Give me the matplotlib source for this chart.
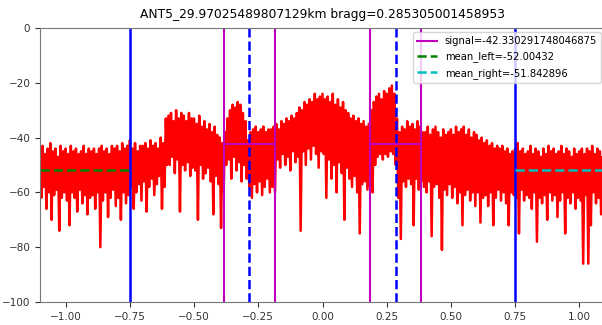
import matplotlib
matplotlib.use('Agg')
import matplotlib.pyplot as plt
import numpy as np

title = "ANT5_29.97025489807129km bragg=0.285305001458953"
bragg = 0.285305001458953
signal = -42.330291748046875
mean_left = -52.00432
mean_right = -51.842896

# spectrum: top and bottom of the noisy band, step 0.01 from -1.10
x_start = -1.10
x_step = 0.01
upper = [
    -45, -43, -46, -44, -42, -45, -44, -47, -43, -45,
    -44, -46, -43, -45, -44, -46, -45, -43, -46, -44,
    -45, -44, -46, -44, -43, -45, -44, -46, -43, -44,
    -43, -45, -42, -44, -43, -41, -44, -42, -45, -43,
    -43, -42, -44, -41, -43, -42, -44, -40, -42, -33,
    -32, -31, -34, -30, -33, -31, -32, -34, -31, -33,
    -33, -35, -32, -36, -34, -37, -35, -38, -36, -39,
    -40, -42, -38, -33, -30, -28, -29, -27, -28, -31,
    -34, -41, -38, -37, -36, -38, -37, -36, -38, -37,
    -37, -36, -35, -37, -34, -35, -33, -34, -32, -33,
    -31, -29, -30, -27, -28, -26, -27, -24, -26, -25,
    -24, -26, -25, -27, -24, -28, -26, -29, -27, -30,
    -31, -33, -32, -34, -33, -35, -34, -36, -35, -30,
    -27, -25, -24, -26, -23, -24, -22, -21, -24, -33,
    -38, -36, -37, -34, -36, -35, -37, -34, -36, -38,
    -38, -36, -39, -37, -36, -38, -40, -37, -39, -38,
    -37, -39, -36, -38, -37, -36, -39, -37, -40, -38,
    -39, -41, -40, -42, -41, -43, -42, -44, -43, -44,
    -43, -45, -44, -46, -45, -44, -42, -45, -44, -46,
    -45, -43, -46, -44, -45, -47, -44, -46, -43, -45,
    -44, -46, -45, -43, -46, -44, -45, -47, -44, -46,
    -45, -44, -46, -44, -45, -43, -46, -44, -45, -47,
    -45,
]
lower = [
    -62, -58, -66, -60, -70, -61, -59, -74, -62, -60,
    -63, -72, -60, -62, -67, -59, -64, -61, -68, -62,
    -61, -66, -60, -80, -63, -60, -69, -62, -59, -65,
    -62, -70, -60, -64, -61, -58, -66, -60, -57, -63,
    -56, -67, -58, -55, -61, -57, -54, -66, -58, -50,
    -50, -47, -53, -48, -67, -50, -52, -49, -54, -51,
    -52, -70, -50, -55, -53, -51, -56, -68, -54, -57,
    -73, -60, -50, -48, -55, -47, -52, -49, -56, -50,
    -55, -58, -62, -57, -60, -56, -61, -58, -55, -60,
    -58, -60, -48, -51, -46, -50, -47, -52, -45, -49,
    -47, -74, -45, -50, -44, -48, -43, -46, -51, -45,
    -46, -62, -48, -55, -50, -60, -49, -53, -70, -51,
    -55, -58, -54, -60, -75, -57, -56, -59, -58, -60,
    -50, -47, -46, -48, -46, -47, -45, -46, -50, -62,
    -77, -56, -58, -55, -57, -72, -55, -59, -56, -58,
    -60, -56, -76, -58, -57, -62, -81, -59, -61, -57,
    -62, -58, -64, -60, -72, -61, -59, -63, -60, -65,
    -60, -71, -62, -61, -65, -60, -72, -62, -59, -63,
    -60, -64, -72, -60, -61, -62, -75, -59, -63, -61,
    -62, -66, -60, -78, -62, -64, -61, -70, -60, -63,
    -61, -69, -63, -60, -75, -62, -64, -60, -66, -62,
    -63, -86, -61, -86, -72, -60, -64, -62, -68, -61,
    -62,
]

n = len(upper)
xs = x_start + x_step * np.arange(n)
freq = np.empty(2 * n)
power = np.empty(2 * n)
freq[0::2] = xs
freq[1::2] = xs + x_step / 2
power[0::2] = upper
power[1::2] = lower

fig = plt.figure(figsize=(6.02, 3.25), dpi=100)
ax = fig.add_axes([40 / 602, 23 / 325, 565 / 602, 274 / 325])

ax.plot(freq, power, color='red', lw=1.8)

for v in (-0.75, 0.75):
    ax.axvline(v, color='b', lw=1.8)
for v in (-bragg, bragg):
    ax.axvline(v, color='b', lw=1.8, ls='--')

sig_l = [-bragg - 0.1, bragg - 0.1]
sig_r = [-bragg + 0.1, bragg + 0.1]
for i in range(2):
    ax.axvline(sig_l[i], color='m', lw=1.5)
    ax.axvline(sig_r[i], color='m', lw=1.5)
    ax.plot([sig_l[i], sig_r[i]], [signal, signal], color='m', lw=1.5,
            label=f"signal={signal}" if i == 0 else None)

ax.plot([-1.1, -0.75], [mean_left, mean_left], color='g', ls='--', lw=1.8,
        label=f"mean_left={mean_left}")
ax.plot([0.75, 1.1], [mean_right, mean_right], color='c', ls='--', lw=1.8,
        label=f"mean_right={mean_right}")

ax.set_xlim(-1.1, 1.1)
ax.set_ylim(-100, 0)
ax.set_xticks(np.arange(-1.0, 1.01, 0.25))
ax.set_yticks([0, -20, -40, -60, -80, -100])
ax.tick_params(labelsize=7.5, colors='#333333')
for s in ax.spines.values():
    s.set_color('#777777')
ax.set_title(title, fontsize=8.8, pad=7)
ax.legend(loc='upper right', fontsize=7.2, handlelength=2, borderaxespad=0.4,
          labelspacing=0.55)

fig.savefig('out.png', dpi=100)
